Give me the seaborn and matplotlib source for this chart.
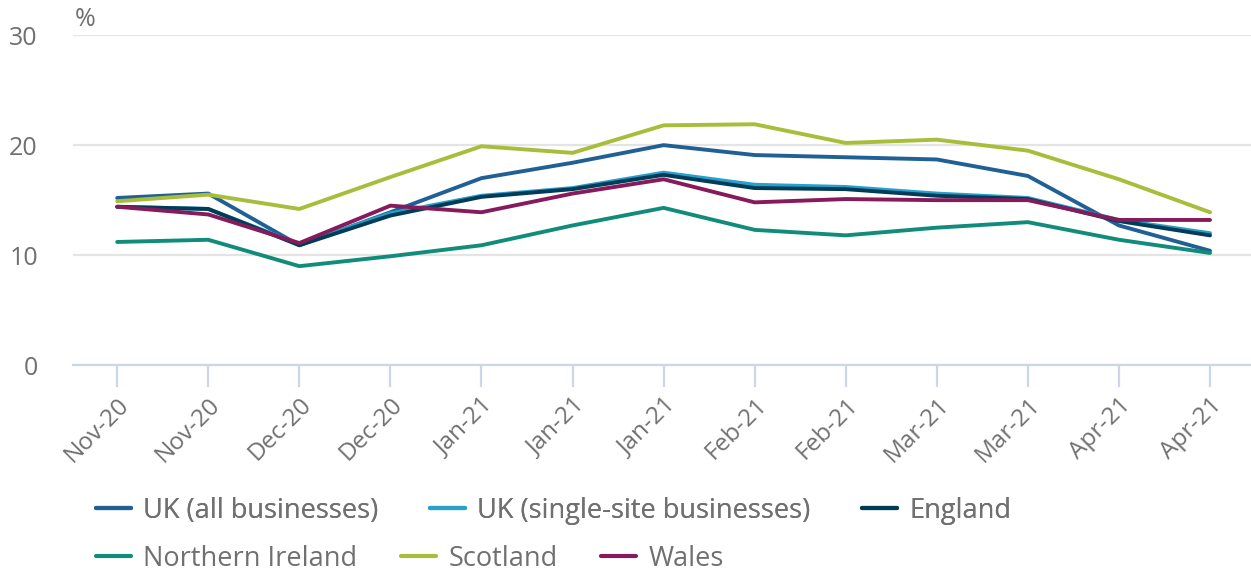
import matplotlib
matplotlib.use('Agg')
import matplotlib.pyplot as plt
import seaborn as sns
import pandas as pd
from matplotlib.lines import Line2D

# --- DATA ---
periods = ["Nov-20", "Nov-20", "Dec-20", "Dec-20", "Jan-21", "Jan-21", "Jan-21",
           "Feb-21", "Feb-21", "Mar-21", "Mar-21", "Apr-21", "Apr-21"]

uk_all = [15.2, 15.6, 10.9, 13.9, 17.0, 18.4, 20.0, 19.1, 18.9, 18.7, 17.2, 12.7, 10.4]
uk_single = [14.4, 14.2, 11.0, 13.8, 15.4, 16.1, 17.5, 16.4, 16.2, 15.6, 15.2, 13.2, 12.0]
england = [14.4, 14.2, 10.9, 13.6, 15.3, 16.0, 17.3, 16.1, 16.0, 15.4, 15.1, 13.1, 11.8]
n_ireland = [11.2, 11.4, 9.0, 9.9, 10.9, 12.7, 14.3, 12.3, 11.8, 12.5, 13.0, 11.4, 10.2]
scotland = [14.9, 15.5, 14.2, 17.1, 19.9, 19.3, 21.8, 21.9, 20.2, 20.5, 19.5, 16.9, 13.9]
wales = [14.4, 13.7, 11.1, 14.5, 13.9, 15.6, 16.9, 14.8, 15.1, 15.0, 15.0, 13.2, 13.2]

series_names = ["UK (all businesses)", "UK (single-site businesses)", "England",
                "Northern Ireland", "Scotland", "Wales"]
series_values = [uk_all, uk_single, england, n_ireland, scotland, wales]
colours = ["#206095", "#27a0cc", "#003c57", "#118c7b", "#a8bd3a", "#871a5b"]

rows = []
for name, vals in zip(series_names, series_values):
    for i, v in enumerate(vals):
        rows.append({"idx": i, "value": v, "series": name})
df = pd.DataFrame(rows)

sns.set_theme(style="white")
plt.rcParams['font.family'] = ['Open Sans', 'DejaVu Sans']
TEXT = "#707070"

fig = plt.figure(figsize=(12.51, 5.76), dpi=100)
ax = fig.add_axes([0.058, 0.366, 0.942, 0.573])

sns.lineplot(data=df, x="idx", y="value", hue="series", hue_order=series_names,
             palette=dict(zip(series_names, colours)), linewidth=2.8, ax=ax,
             legend=False, solid_capstyle="round")

ax.set_ylim(0, 30)
ax.set_xlim(-0.49, 12.45)
ax.set_yticks([0, 10, 20, 30])
ax.set_xticks(range(len(periods)))
ax.set_xticklabels(periods, rotation=45, ha="right", rotation_mode="anchor")
ax.set_xlabel("")
ax.set_ylabel("")

ax.grid(axis="y", color="#e4e4e4", linewidth=1.6)
ax.grid(axis="x", visible=False)
ax.set_axisbelow(True)
for side in ["top", "right", "left"]:
    ax.spines[side].set_visible(False)
ax.spines["bottom"].set_color("#cdd6e8")
ax.spines["bottom"].set_linewidth(1.6)

ax.tick_params(axis="x", length=16, width=1.6, color="#cdd6e8", labelsize=17.5,
               labelcolor=TEXT, pad=4, bottom=True)
ax.tick_params(axis="y", length=0, labelsize=18, labelcolor=TEXT, pad=25)

fig.text(0.068, 0.944, "%", fontsize=18, color=TEXT, ha="center", va="bottom")

# legend in two flowing rows
handles = [Line2D([0], [0], color=c, linewidth=3) for c in colours]
leg_kw = dict(loc="center left", ncol=3, frameon=False, fontsize=19.5,
              labelcolor=TEXT, handlelength=1.3, handletextpad=0.45,
              borderaxespad=0, borderpad=0)
leg1 = fig.legend(handles[:3], series_names[:3], bbox_to_anchor=(0.0767, 0.113),
                  columnspacing=1.9, **leg_kw)
leg2 = fig.legend(handles[3:], series_names[3:], bbox_to_anchor=(0.0767, 0.03),
                  columnspacing=1.6, **leg_kw)
fig.add_artist(leg1)

fig.savefig("out.png", dpi=100)
